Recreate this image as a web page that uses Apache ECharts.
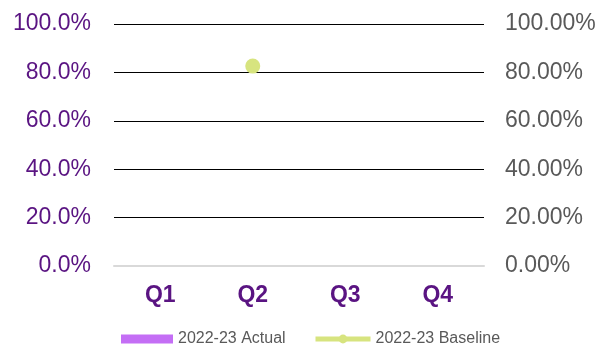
<!DOCTYPE html>
<html>
<head>
<meta charset="utf-8">
<script src="https://cdn.jsdelivr.net/npm/echarts@6/dist/echarts.min.js"></script>
<style>
  html, body { margin: 0; padding: 0; background: #fff; }
  #chart { width: 600px; height: 346px; }
</style>
</head>
<body>
<div id="chart"></div>
<script>
// Quarterly performance: actual vs. baseline (percent)
const quarters = ['Q1', 'Q2', 'Q3', 'Q4'];
const actual2223 = [null, null, null, null];
const baseline2223 = [null, 82.6, null, null];
const leftTicks = [0, 20, 40, 60, 80, 100];

const chart = echarts.init(document.getElementById('chart'));
const font = '"Liberation Sans", Arial, sans-serif';
const legendText = { fontSize: 16, color: '#595959', fontFamily: font };

chart.setOption({
  animation: false,
  textStyle: { fontFamily: font },
  grid: { left: 114, right: 116, top: 24, bottom: 80 },
  legend: [
    {
      top: 326,
      left: 116,
      itemWidth: 52,
      itemHeight: 9,
      textStyle: legendText,
      data: [{ name: '2022-23 Actual', icon: 'rect' }]
    },
    {
      top: 326,
      left: 308,
      itemWidth: 55,
      itemHeight: 11,
      lineStyle: { width: 5 },
      textStyle: legendText,
      data: [{ name: '2022-23 Baseline' }]
    }
  ],
  xAxis: {
    type: 'category',
    data: quarters,
    axisTick: { show: false },
    axisLine: { show: true, lineStyle: { color: '#d9d9d9', width: 2 } },
    axisLabel: { fontSize: 23, fontWeight: 'bold', color: '#5a1482', margin: 18, fontFamily: font }
  },
  yAxis: [
    {
      type: 'value',
      min: leftTicks[0],
      max: leftTicks[leftTicks.length - 1],
      interval: 20,
      axisLine: { show: false },
      axisTick: { show: false },
      splitLine: { lineStyle: { color: '#000', width: 1 } },
      axisLabel: {
        fontSize: 23, color: '#5a1482', margin: 23, fontFamily: font,
        formatter: v => v.toFixed(1) + '%'
      }
    },
    {
      type: 'value',
      min: 0,
      max: 100,
      interval: 20,
      position: 'right',
      axisLine: { show: false },
      axisTick: { show: false },
      splitLine: { show: false },
      axisLabel: {
        fontSize: 23, color: '#595959', margin: 21, fontFamily: font,
        formatter: v => v.toFixed(2) + '%'
      }
    }
  ],
  series: [
    {
      name: '2022-23 Actual',
      type: 'bar',
      data: actual2223,
      itemStyle: { color: '#c46ef5' }
    },
    {
      name: '2022-23 Baseline',
      type: 'line',
      yAxisIndex: 1,
      data: baseline2223,
      symbol: 'circle',
      symbolSize: 15,
      showSymbol: true,
      connectNulls: false,
      lineStyle: { color: '#d7e47f', width: 5 },
      itemStyle: { color: '#d7e47f' }
    }
  ]
});
</script>
</body>
</html>
